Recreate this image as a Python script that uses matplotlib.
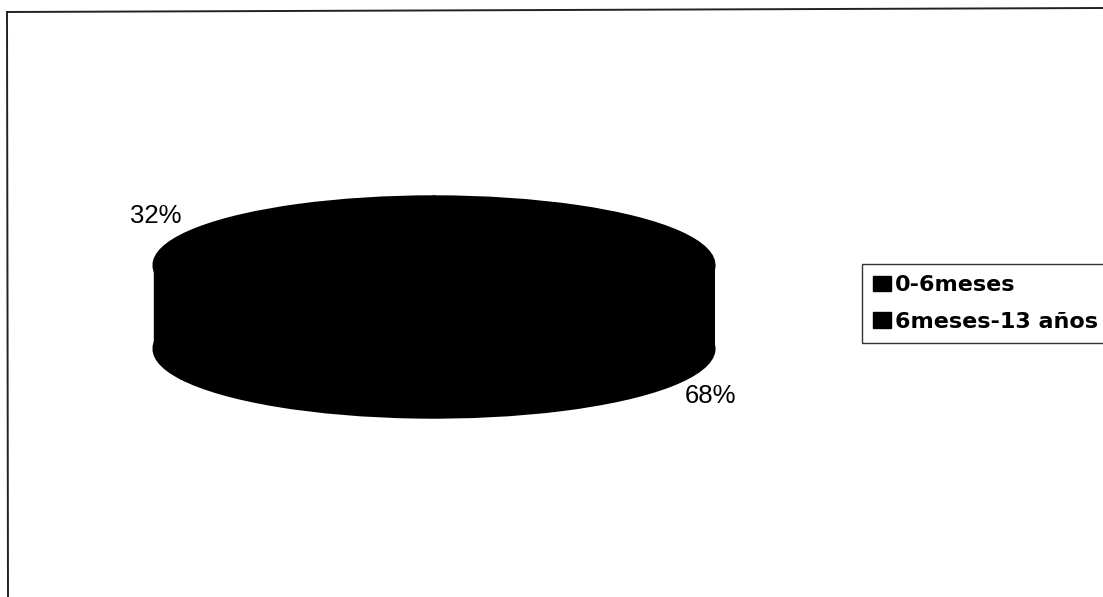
import matplotlib
matplotlib.use("Agg")
import matplotlib.pyplot as plt
from matplotlib.patches import Patch, Rectangle
from matplotlib.lines import Line2D

categories = ["0-6meses", "6meses-13 años"]
values = [32, 68]
pct_labels = [f"{v}%" for v in values]
colors = ["#000000", "#000000"]

W, H = 1103, 597
fig = plt.figure(figsize=(W / 100, H / 100), dpi=100)
fig.patch.set_facecolor("white")

# pie geometry in pixels
cx, a = 434, 281          # centre x, horizontal semi-axis
top_y, b = 196, 69        # top of ellipse, vertical semi-axis
depth = 84                # thickness of the 3D side
d = depth / b             # depth in axis units

left = (cx - a) / W
width = 2 * a / W
height = (2 * b + depth) / H
bottom = 1 - (top_y + 2 * b + depth) / H
ax = fig.add_axes([left, bottom, width, height])

wp = dict(edgecolor="#000000", linewidth=2.0)
# bottom layer, side, top layer
ax.pie(values, colors=colors, startangle=90, counterclock=True,
       center=(0, -d), radius=1, wedgeprops=wp)
ax.add_patch(Rectangle((-1, -d), 2, d, facecolor="#000000", edgecolor="#000000", lw=1.0))
ax.pie(values, colors=colors, startangle=90, counterclock=True,
       center=(0, 0), radius=1, wedgeprops=wp)
ax.set_aspect("auto")
ax.set_xlim(-1.003, 1.003)
ax.set_ylim(-1 - d - 0.01, 1.01)
ax.axis("off")

# percentage labels
label_pos = [(156, 216), (711, 396)]
for txt, (px, py) in zip(pct_labels, label_pos):
    fig.text(px / W, 1 - py / H, txt, ha="center", va="center",
             fontsize=18.5, family=["Liberation Sans", "DejaVu Sans"], color="#000000")

# legend
handles = [Patch(facecolor=c, edgecolor=c) for c in colors]
leg = fig.legend(handles, categories, loc="upper left",
                 bbox_to_anchor=(862 / W, 1 - 264 / H), borderaxespad=0,
                 prop=dict(family="DejaVu Sans", weight="bold", size=16),
                 frameon=True, fancybox=False, shadow=False,
                 handlelength=0.8, handleheight=0.7, handletextpad=0.2,
                 labelspacing=0.75, borderpad=0.5)
leg.get_frame().set_edgecolor("#000000")
leg.get_frame().set_linewidth(1.0)

# outer chart border (left and top)
fig.add_artist(Line2D([7 / W, 1.0], [1 - 12 / H, 1 - 8 / H], color="#222222", lw=1.4,
                      transform=fig.transFigure))
fig.add_artist(Line2D([7 / W, 8 / W], [1 - 12 / H, 0.0], color="#222222", lw=1.4,
                      transform=fig.transFigure))

fig.savefig("out.png", dpi=100, facecolor="white")
